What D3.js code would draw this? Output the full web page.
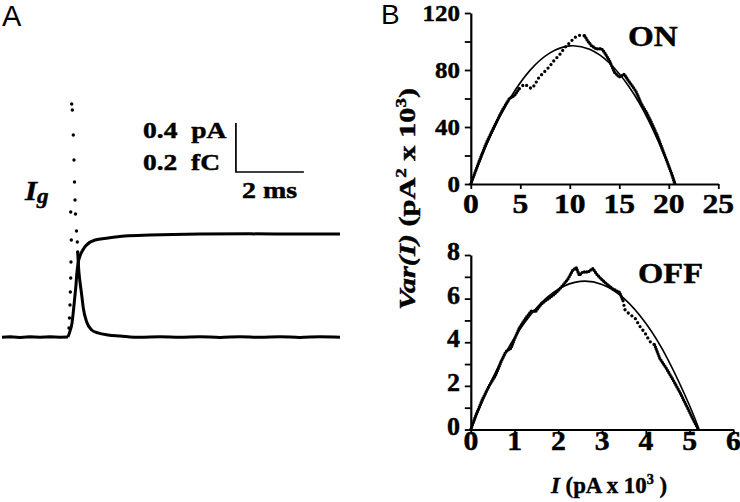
<!DOCTYPE html>
<html>
<head>
<meta charset="utf-8">
<script src="https://cdn.jsdelivr.net/npm/d3@7"></script>
<style>
  html, body { margin: 0; padding: 0; background: #fff; }
  svg { display: block; }
</style>
</head>
<body>
<div id="chart"></div>
<script>
// Panel A : courant de gating (pA) et charge (fC) en fonction du temps (ms)
const igPreT = [0, 0.24, 0.53, 0.82, 1.12, 1.41, 1.71, 1.94]
const igPre = [-0.003, 0.002, -0.004, 0.002, -0.003, 0.002, -0.003, 0]
// échantillons isolés (montée rapide + début de décroissance)
const igDotT = [1.97, 1.985, 2.0, 2.009, 2.021, 2.029, 2.038, 2.021, 2.05, 2.068, 2.097, 2.118, 2.132, 2.147, 2.162, 2.191, 2.215, 2.226]
const igDot = [0.073, 0.155, 0.261, 0.367, 0.482, 0.612, 0.792, 1.02, 1.902, 1.853, 1.649, 1.445, 1.265, 1.118, 1.004, 0.865, 0.776, 0.694]
const igPostT = [2.226, 2.244, 2.265, 2.294, 2.344, 2.391, 2.491, 2.638, 2.824, 3.118, 3.47, 4.06, 4.65, 5.24, 5.82, 6.41, 7.0, 7.59, 8.18, 8.76, 9.35, 9.94]
const igPost = [0.694, 0.604, 0.522, 0.449, 0.343, 0.237, 0.122, 0.057, 0.033, 0.016, 0.008, -0.003, 0.002, -0.003, 0.002, -0.004, 0.002, -0.003, 0.002, -0.004, 0.002, -0.002]
const qT = [1.94, 2.0, 2.059, 2.097, 2.147, 2.176, 2.197, 2.244, 2.294, 2.344, 2.412, 2.491, 2.735, 3.118, 3.618, 4.353, 5.824, 7.294, 8.765, 9.94]
const qV = [0, 0.024, 0.057, 0.102, 0.171, 0.212, 0.253, 0.306, 0.331, 0.347, 0.363, 0.376, 0.396, 0.404, 0.412, 0.416, 0.420, 0.421, 0.420, 0.420]

// Panel B (ON) : Var(I) (pA² x 10³) vs I (pA x 10³)
const onI = [0, 0.85, 1.5, 2.2, 3.2, 3.9, 4.4, 4.9, 5.4, 5.7, 6.1, 6.4, 6.9, 7.4, 7.9, 8.4, 9.0, 9.5, 10.0, 10.5, 11.0, 11.5, 11.8, 12.2, 12.7, 13.2, 13.5, 14.0, 14.5, 15.0, 15.5, 15.9, 16.4, 16.7, 17.2, 17.7, 18.2, 18.8, 19.3, 19.8, 20.3, 20.6]
const onVar = [0, 16, 27.7, 38, 52, 60, 62, 67, 70, 69, 67, 69, 75, 78.5, 82, 86.6, 91, 95.8, 99.3, 102.8, 104.4, 104, 100.5, 97, 94.7, 95, 92.4, 86.6, 78.5, 75, 77, 72.7, 68, 64.7, 56.6, 50.8, 43.9, 34.6, 25.4, 16.2, 6.9, 0]
const onFitI = [0, 2, 4, 6, 8, 10, 12, 14, 16, 18, 20, 20.7]
const onFitVar = [0, 33.9, 60.5, 79.9, 92.0, 96.9, 94.5, 84.9, 68.1, 44.0, 12.7, 0]

// Panel B (OFF)
const offI = [0, 0.11, 0.27, 0.42, 0.57, 0.69, 0.80, 0.92, 0.99, 1.11, 1.26, 1.38, 1.49, 1.61, 1.76, 1.91, 2.03, 2.1, 2.22, 2.33, 2.41, 2.48, 2.56, 2.68, 2.79, 2.87, 2.98, 3.1, 3.25, 3.4, 3.48, 3.52, 3.63, 3.75, 3.86, 3.98, 4.09, 4.2, 4.32, 4.47, 4.63, 4.78, 4.93, 5.08, 5.2]
const offVar = [0, 0.62, 1.4, 2.0, 2.5, 3.1, 3.57, 3.73, 4.1, 4.66, 5.12, 5.43, 5.43, 5.75, 5.98, 6.2, 6.44, 6.6, 6.9, 7.3, 7.42, 7.07, 7.22, 7.22, 7.38, 7.14, 6.9, 6.68, 6.44, 6.29, 5.9, 5.5, 5.28, 5.12, 4.74, 4.43, 4.04, 3.88, 3.26, 2.8, 2.25, 1.7, 1.09, 0.47, 0]
const offFitI = [0, 0.5, 1, 1.5, 2, 2.5, 3, 3.5, 4, 4.5, 5, 5.22]
const offFitVar = [0, 2.36, 4.21, 5.57, 6.43, 6.79, 6.65, 6.01, 4.87, 3.23, 1.10, 0]

const onYTicks = [0, 40, 80, 120]
const onXTicks = [0, 5, 10, 15, 20, 25]
const offYTicks = [0, 2, 4, 6, 8]
const offXTicks = [0, 1, 2, 3, 4, 5, 6]

const W = 740, H = 502
const SERIF = "'Liberation Serif', 'Times New Roman', serif"
const SANS = "'Liberation Sans', Arial, sans-serif"

const svg = d3.select("#chart").append("svg")
  .attr("width", W).attr("height", H)
  .style("background", "#fff")

// stretch : la police de la figure est légèrement étirée en largeur
function serif(g, x, y, anchor, size, stretch = 1.1) {
  return g.append("text")
    .attr("transform", `translate(${x},${y}) scale(${stretch},1)`)
    .attr("text-anchor", anchor)
    .attr("font-family", SERIF)
    .attr("font-weight", "bold")
    .attr("font-size", size)
    .attr("fill", "#000")
    .attr("stroke", "#000")
    .attr("stroke-width", 0.45)
}

// Ajuste la largeur d'un texte (étirement horizontal) à celle mesurée sur la figure
function fitWidth(sel, x, y, width, rot) {
  const w = sel.node().getBBox().width
  sel.attr("transform", `translate(${x},${y})${rot ? ` rotate(${rot})` : ""} scale(${width / w},1)`)
  return sel
}

const zip = (a, b) => a.map((v, i) => [v, b[i]])

// ---------- Panel A ----------
const gA = svg.append("g")
gA.append("text").attr("x", 2).attr("y", 26)
  .attr("font-family", SANS).attr("font-size", 29).attr("fill", "#000").text("A")

const t = d3.scaleLinear().domain([0, 10]).range([2, 342])
const yI = d3.scaleLinear().domain([0, 2]).range([337, 92])
const yQ = d3.scaleLinear().domain([0, 1]).range([337, 92])

const lineI = d3.line().x((d) => t(d[0])).y((d) => yI(d[1]))
const lineQ = d3.line().x((d) => t(d[0])).y((d) => yQ(d[1])).curve(d3.curveMonotoneX)

gA.append("path").attr("d", lineI(zip(igPreT, igPre)))
  .attr("fill", "none").attr("stroke", "#000").attr("stroke-width", 3)
gA.append("path").attr("d", lineI.curve(d3.curveMonotoneX)(zip(igPostT, igPost)))
  .attr("fill", "none").attr("stroke", "#000").attr("stroke-width", 3)
gA.append("path").attr("d", lineQ(zip(qT, qV)))
  .attr("fill", "none").attr("stroke", "#000").attr("stroke-width", 3)
gA.selectAll("circle.ig")
  .data(zip(igDotT, igDot))
  .join("circle")
  .attr("class", "ig")
  .attr("cx", (d) => t(d[0]))
  .attr("cy", (d) => yI(d[1]))
  .attr("r", 1.7)
  .attr("fill", "#000")

// Barre d'échelle : 0.4 pA / 0.2 fC vertical, 2 ms horizontal
const barT = 6.88, barI = 1.347
gA.append("path")
  .attr("d", `M${t(barT)},${yI(barI + 0.4)}V${yI(barI)}H${t(barT + 2)}`)
  .attr("fill", "none").attr("stroke", "#000").attr("stroke-width", 1.7)
fitWidth(serif(gA, 0, 0, "start", 23).text("0.4\u00a0\u00a0pA"), 143, 138, 84)
fitWidth(serif(gA, 0, 0, "start", 23).text("0.2\u00a0\u00a0fC"), 143, 170, 77)
fitWidth(serif(gA, 0, 0, "start", 23).text("2 ms"), 242, 198, 55)

const ig = serif(gA, 25, 200, "start", 28)
ig.append("tspan").attr("font-style", "italic").text("I")
ig.append("tspan").attr("font-style", "italic").attr("font-size", 21).attr("dy", 3).text("g")

// ---------- Panel B ----------
const gB = svg.append("g")
gB.append("text").attr("x", 381).attr("y", 24)
  .attr("font-family", SANS).attr("font-size", 28).attr("fill", "#000").text("B")

function varPlot(cfg) {
  const x = d3.scaleLinear().domain(cfg.xDomain).range([470.8, cfg.xRight])
  const y = d3.scaleLinear().domain(cfg.yDomain).range([cfg.yBottom, cfg.yTop])
  const g = gB.append("g")

  const yAxis = g.append("g").attr("transform", `translate(${x(0)},0)`)
    .call(d3.axisLeft(y).tickValues(cfg.yMinor).tickSize(6).tickSizeOuter(0).tickFormat(""))
  const xAxis = g.append("g").attr("transform", `translate(0,${y(0)})`)
    .call(d3.axisBottom(x).tickValues(cfg.xMinor).tickSize(5).tickSizeOuter(0).tickFormat(""))
  for (const a of [yAxis, xAxis]) {
    a.select(".domain").attr("stroke", "#000").attr("stroke-width", 2.2)
    a.selectAll(".tick line").attr("stroke", "#000").attr("stroke-width", 1.8)
  }

  cfg.yTicks.forEach((v) => serif(g, 460, y(v) + cfg.yl[2], "end", cfg.yl[0], cfg.yl[1]).text(v))
  cfg.xTicks.forEach((v) => serif(g, x(v), cfg.xl[2], "middle", cfg.xl[0], cfg.xl[1]).text(v))

  // ajustement (trait fin)
  g.append("path")
    .attr("d", d3.line().x((d) => x(d[0])).y((d) => y(d[1])).curve(d3.curveNatural)(zip(cfg.fitI, cfg.fitVar)))
    .attr("fill", "none").attr("stroke", "#000").attr("stroke-width", 1.6)

  // données : points serrés (perles) via dasharray à bouts ronds
  const pts = zip(cfg.dataI, cfg.dataVar)
  const sparse = (d) => d[0] >= cfg.sparse[0] && d[0] <= cfg.sparse[1]
  const lineD = d3.line().x((d) => x(d[0])).y((d) => y(d[1]))
  g.append("path")
    .attr("d", lineD.defined((d, i) => !sparse(d) || (i > 0 && !sparse(pts[i - 1])) || (i < pts.length - 1 && !sparse(pts[i + 1])))(pts))
    .attr("fill", "none").attr("stroke", "#000").attr("stroke-width", 3.3)
    .attr("stroke-linecap", "round").attr("stroke-dasharray", "0 2.4")
  g.append("path")
    .attr("d", d3.line().x((d) => x(d[0])).y((d) => y(d[1]))(pts.filter(sparse)))
    .attr("fill", "none").attr("stroke", "#000").attr("stroke-width", 3.3)
    .attr("stroke-linecap", "round").attr("stroke-dasharray", "0 4.6")

  fitWidth(serif(g, 0, 0, "start", 30).text(cfg.tagText), cfg.tag[0], cfg.tag[1], cfg.tag[2])
}

// yl / xl : [taille, étirement, position de la ligne de base]
varPlot({
  xDomain: [0, 25], xRight: 718.3, yDomain: [0, 120], yBottom: 184, yTop: 13,
  yMinor: [0, 20, 40, 60, 80, 100, 120], xMinor: onXTicks,
  yTicks: onYTicks, xTicks: onXTicks, yl: [24, 1.04, 8], xl: [27, 1.17, 213],
  fitI: onFitI, fitVar: onFitVar, dataI: onI, dataVar: onVar,
  sparse: [4.6, 11.6], tag: [628, 46, 50], tagText: "ON",
})

varPlot({
  xDomain: [0, 6], xRight: 733.3, yDomain: [0, 8], yBottom: 429.5, yTop: 255,
  yMinor: [0, 1, 2, 3, 4, 5, 6, 7, 8], xMinor: [0, 1, 2, 3, 4, 5, 6],
  yTicks: offYTicks, xTicks: offXTicks, yl: [26, 1.0, 5], xl: [27, 1.1, 450],
  fitI: offFitI, fitVar: offFitVar, dataI: offI, dataVar: offVar,
  sparse: [3.45, 4.25], tag: [638, 283, 65], tagText: "OFF",
})

// Titres d'axes
const yl = serif(gB, 0, 0, "middle", 24)
yl.append("tspan").attr("font-style", "italic").text("Var(I)")
yl.append("tspan").text(" (pA")
yl.append("tspan").attr("font-size", 15).attr("dy", -9).text("2")
yl.append("tspan").attr("dy", 9).text(" x 10")
yl.append("tspan").attr("font-size", 15).attr("dy", -9).text("3")
yl.append("tspan").attr("dy", 9).text(")")
fitWidth(yl, 415, 199, 222, -90)

const xl = serif(gB, 0, 0, "start", 24)
xl.append("tspan").attr("font-style", "italic").text("I")
xl.append("tspan").text(" (pA x 10")
xl.append("tspan").attr("font-size", 15).attr("dy", -9).text("3")
xl.append("tspan").attr("dy", 9).text(" )")
fitWidth(xl, 551, 493, 117)
</script>
</body>
</html>
